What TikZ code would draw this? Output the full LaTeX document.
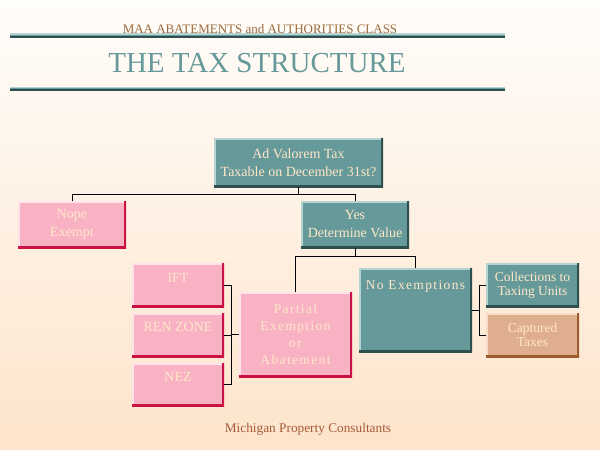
\documentclass[tikz,border=0pt]{standalone}
\usepackage{fontspec}
\setmainfont{Liberation Serif}
\newfontfamily\spaced[LetterSpace=10]{Liberation Serif}
\usetikzlibrary{positioning,calc}
\definecolor{bgtop}{HTML}{FFFDFA}
\definecolor{bgbot}{HTML}{FDE4CB}
\definecolor{teal}{HTML}{669999}
\definecolor{tealhi}{HTML}{B4D4D4}
\definecolor{tealdk}{HTML}{2F4F4F}
\definecolor{pink}{HTML}{F8B2C4}
\definecolor{pinkhi}{HTML}{FFE2EA}
\definecolor{pinkdk}{HTML}{CC1144}
\definecolor{tan}{HTML}{DFAE8E}
\definecolor{tanhi}{HTML}{F8DCC8}
\definecolor{tandk}{HTML}{9C5C30}
\definecolor{boxtext}{HTML}{FFE8C8}
\definecolor{brown}{HTML}{9C6A3C}
\definecolor{sienna}{HTML}{A85A38}
\tikzset{
  box/.style n args={3}{
    fill=#1,
    inner sep=0pt,
    align=center,
    text=boxtext,
    font=\fontsize{14}{18}\selectfont,
    path picture={
      \draw[#2, line width=4pt] (path picture bounding box.south west)
        -- (path picture bounding box.north west) -- (path picture bounding box.north east);
      \draw[#3, line width=5pt] (path picture bounding box.north east)
        -- (path picture bounding box.south east) -- (path picture bounding box.south west);
    }
  },
  tealbox/.style = {box={teal}{tealhi}{tealdk}},
  pinkbox/.style = {box={pink}{pinkhi}{pinkdk}},
  tanbox/.style  = {box={tan}{tanhi}{tandk}},
  edge/.style = {
    semithick,
    black
  }
}

\begin{document}
\begin{tikzpicture}[x=1pt,y=-1pt]
    \useasboundingbox (0,0) rectangle (600,450);
    \shade[top color=bgtop, bottom color=bgbot] (0,0) rectangle (600,450);

    \fill[tealhi] (10,33) rectangle (505,34.6);
    \fill[teal]   (10,34.6) rectangle (505,36.2);
    \fill[tealdk] (10,36.2) rectangle (505,37.5);
    \fill[tealhi] (10,86.5) rectangle (505,88);
    \fill[teal]   (10,88) rectangle (505,89.3);
    \fill[tealdk] (10,89.3) rectangle (505,90.5);

    \node[anchor=base, text=brown, font=\fontsize{13}{13}\selectfont] (subtitle) at (260,33) {MAA ABATEMENTS and AUTHORITIES CLASS};
    \node[anchor=base, text=teal, font=\fontsize{29}{29}\selectfont] (title) at (257,72) {THE TAX STRUCTURE};

    \node[tealbox, minimum width=169, minimum height=49] (adval) at (298.5,162.5) {Ad Valorem Tax\\Taxable on December 31st?};
    \node[pinkbox, minimum width=108, minimum height=47] (nope) at (72,224.5) {Nope\\Exempt};
    \node[tealbox, minimum width=108, minimum height=47] (yes) at (355,224.5) {Yes\\Determine Value};
    \node[pinkbox, minimum width=92, minimum height=44, text height=9, text depth=15] (ift) at (178,285) {IFT};
    \node[pinkbox, minimum width=92, minimum height=44, text height=9, text depth=17] (ren) at (178,335) {REN ZONE};
    \node[pinkbox, minimum width=92, minimum height=43, text height=9, text depth=16] (nez) at (178,384.5) {NEZ};
    \node[pinkbox, minimum width=113, minimum height=85, font=\spaced\fontsize{13.5}{17}\selectfont] (partial) at (295.5,334.5) {Partial\\Exemption\\or\\Abatement};
    \node[tealbox, minimum width=113, minimum height=84, text height=9, text depth=51, font=\spaced\fontsize{13.5}{17}\selectfont] (noex) at (415.5,310) {No Exemptions};
    \node[tealbox, minimum width=93, minimum height=44, font=\fontsize{13.5}{14}\selectfont] (coll) at (532.5,285) {Collections to\\Taxing Units};
    \node[tanbox, minimum width=93, minimum height=44, font=\fontsize{13.5}{14}\selectfont] (capt) at (532.5,335) {Captured\\Taxes};

    \node[anchor=base, text=sienna, font=\fontsize{13.3}{13.3}\selectfont] (footer) at (308,432) {Michigan Property Consultants};

    \coordinate (split1) at (298.5,194);
    \coordinate (split2) at (355,256);
    \coordinate (brk1) at (231,334.5);
    \coordinate (brk2) at (479,310);

    \draw[edge] (adval.south) -- (split1);
    \draw[edge] (split1) -| (nope.north);
    \draw[edge] (split1) -| (yes.north);
    \draw[edge] (yes.south) -- (split2);
    \draw[edge] (split2) -| (partial.north);
    \draw[edge] (split2) -| (noex.north);
    \draw[edge] (partial.west) -- (brk1);
    \draw[edge] (ift.east) -| (brk1);
    \draw[edge] (ren.east) -| (brk1);
    \draw[edge] (nez.east) -| (brk1);
    \draw[edge] (noex.east) -- (brk2);
    \draw[edge] (coll.west) -| (brk2);
    \draw[edge] (capt.west) -| (brk2);
\end{tikzpicture}
\end{document}
